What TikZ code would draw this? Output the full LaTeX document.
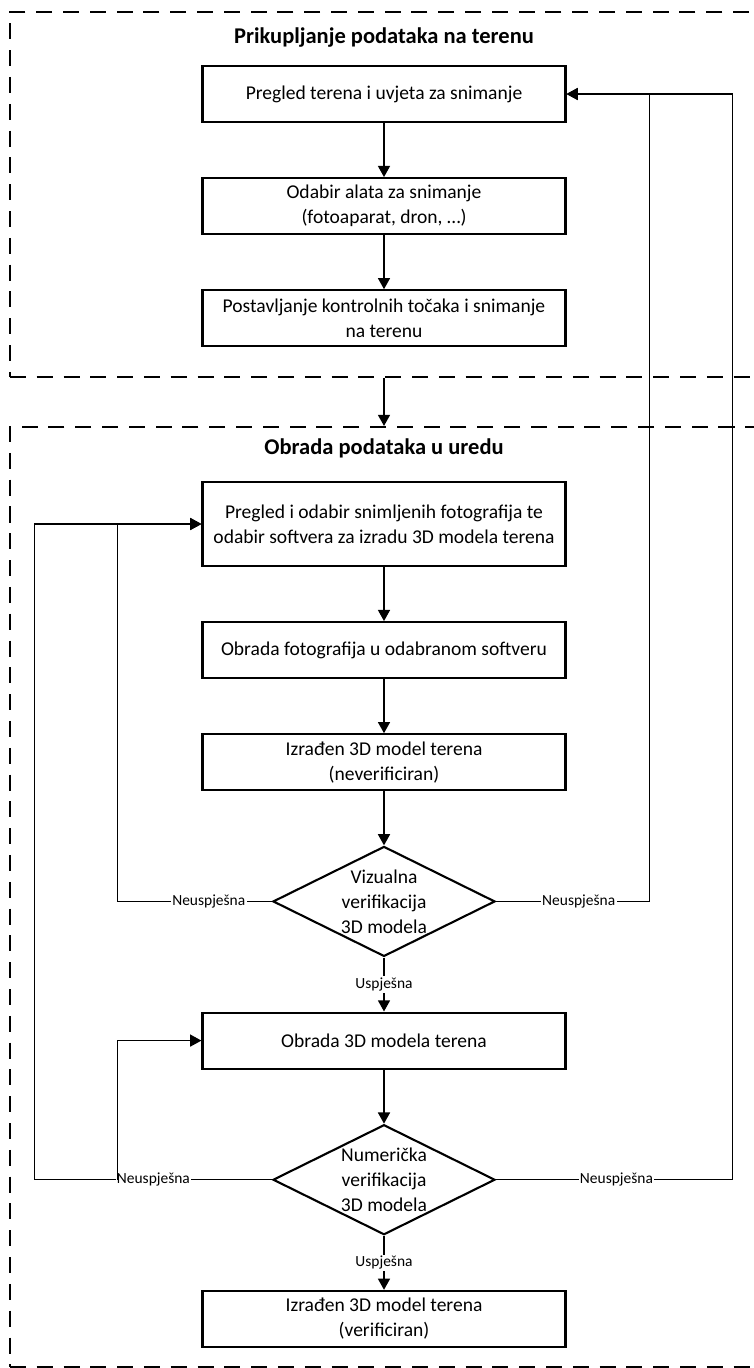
\documentclass[tikz,border=0pt]{standalone}
\usepackage{fontspec}
\setmainfont{Carlito}
\usetikzlibrary{arrows.meta, positioning, shapes.geometric}

\begin{document}
\begin{tikzpicture}[x=0.025cm, y=-0.025cm,
      box/.style={draw, line width=1.5pt, minimum width=9.075cm, minimum height=1.4cm,
                  align=center, font=\fontsize{13.9}{17.8}\selectfont},
      odluka/.style={draw, diamond, aspect=2, inner sep=-6pt, line width=1.5pt,
                  minimum width=5.55cm, minimum height=2.75cm,
                  align=center, font=\fontsize{13.9}{17.8}\selectfont},
      zona/.style={draw, line width=1.3pt, dash pattern=on 0.4cm off 0.27cm, inner sep=0pt},
      naslov/.style={font=\fontsize{16}{19}\selectfont\bfseries},
      arr/.style={-{Triangle[length=0.28cm, width=0.3cm]}, line width=1.2pt},
      petlja/.style={-{Triangle[length=0.28cm, width=0.3cm]}, line width=0.8pt},
      oznaka/.style={fill=white, inner sep=1pt, font=\fontsize{11}{13}\selectfont},
      node distance=1.35cm]
    \useasboundingbox (0,0) rectangle (754,1368);
    \clip (0,0) rectangle (754,1368);

    % podrucja
    \node[zona, minimum width=19.75cm, minimum height=9.125cm] (teren) at (405,194.5) {};
    \node[zona, minimum width=19.75cm, minimum height=23.5cm] (ured) at (405,897) {};
    \node[naslov] (naslovteren) at (384,38) {Prikupljanje podataka na terenu};
    \node[naslov] (naslovured) at (384,448) {Obrada podataka u uredu};

    % teren
    \node[box] (pregled) at (384,94) {Pregled terena i uvjeta za snimanje};
    \node[box, below=of pregled] (alat) {Odabir alata za snimanje\\(fotoaparat, dron, …)};
    \node[box, below=of alat] (tocke) {Postavljanje kontrolnih točaka i snimanje\\na terenu};

    % ured
    \node[box, minimum height=2.1cm] (odabir) at (384,524) {Pregled i odabir snimljenih fotografija te\\odabir softvera za izradu 3D modela terena};
    \node[box, below=of odabir] (obradafoto) {Obrada fotografija u odabranom softveru};
    \node[box, below=of obradafoto] (neverif) {Izrađen 3D model terena\\(neverificiran)};
    \node[odluka, below=of neverif] (vizualna) {Vizualna\\verifikacija\\3D modela};
    \node[box, below=of vizualna] (obrada3d) {Obrada 3D modela terena};
    \node[odluka, below=of obrada3d] (numericka) {Numerička\\verifikacija\\3D modela};
    \node[box, below=of numericka] (verif) {Izrađen 3D model terena\\(verificiran)};

    \draw[arr] (pregled) -- (alat);
    \draw[arr] (alat) -- (tocke);
    \draw[arr] (teren.south -| pregled.south) -- (ured.north -| pregled.north);
    \draw[arr] (odabir) -- (obradafoto);
    \draw[arr] (obradafoto) -- (neverif);
    \draw[arr] (neverif) -- (vizualna);
    \draw[arr] (vizualna) -- node[oznaka]{Uspješna} (obrada3d);
    \draw[arr] (obrada3d) -- (numericka);
    \draw[arr] (numericka) -- node[oznaka]{Uspješna} (verif);

    % povratne veze
    \draw[petlja] (vizualna.west) -- node[oznaka, pos=0.41]{Neuspješna} ++(-154,0) |- (odabir.west);
    \draw[petlja] (vizualna.east) -- node[oznaka, pos=0.54]{Neuspješna} ++(153,0) |- (pregled.east);
    \draw[petlja] (numericka.west) -- node[oznaka, pos=0.5]{Neuspješna} ++(-237,0) |- (odabir.west);
    \draw[petlja] (numericka.west) ++(-154,0) |- (obrada3d.west);
    \draw[petlja] (numericka.east) -- node[oznaka, pos=0.51]{Neuspješna} ++(236,0) |- (pregled.east);
  \end{tikzpicture}
\end{document}
